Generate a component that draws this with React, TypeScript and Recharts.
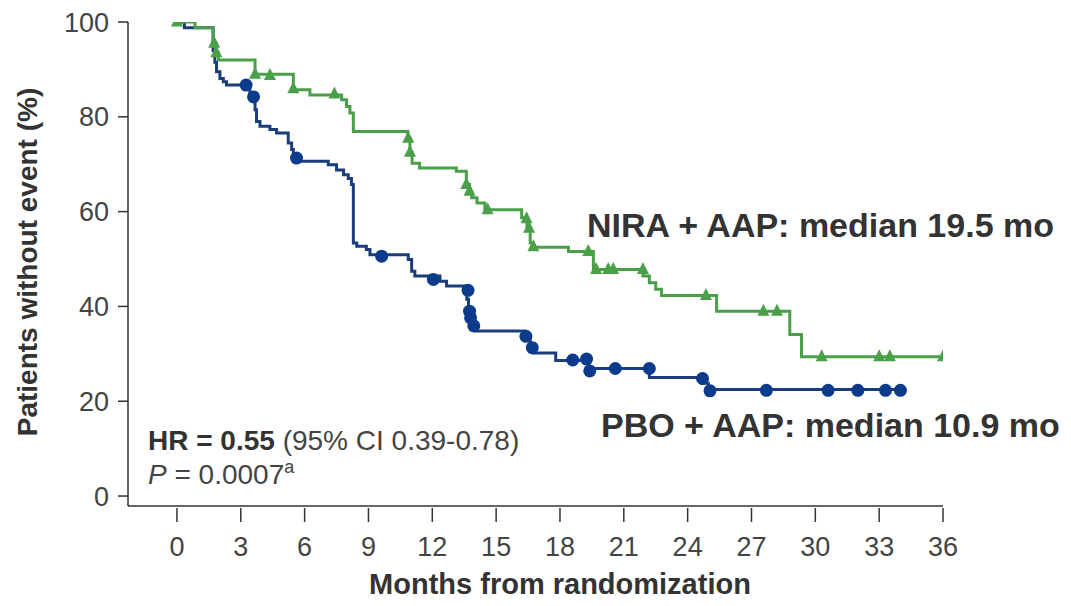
import React from "react";
import { ComposedChart, Line, Scatter, XAxis, YAxis } from "recharts";

// tick labels
const xTicks = [0, 3, 6, 9, 12, 15, 18, 21, 24, 27, 30, 33, 36];
const yTicks = [0, 20, 40, 60, 80, 100];

// NIRA + AAP step curve (months, % without event)
const niraMonths = [0, 0.85, 1.7, 1.85, 1.95, 3.67, 5.47, 6.25, 7.74, 7.97, 8.13, 8.29, 10.85, 10.95, 11.05, 11.4, 13.13, 13.6, 13.75, 13.85, 14.1, 14.47, 16.2, 16.45, 16.6, 16.75, 18.4, 19.57, 21.9, 22.2, 22.5, 22.77, 25.36, 28.8, 29.35, 36];
const niraSurv = [100, 98.8, 95.5, 93.5, 92, 89, 85.7, 84.6, 83.6, 82.2, 80.8, 76.9, 75.4, 72.5, 70.2, 69.2, 68.5, 65.7, 64.3, 62.9, 61.8, 60.4, 58.7, 56.2, 53.4, 52.5, 51.6, 47.8, 46.4, 45.0, 43.6, 42.3, 39.0, 34.1, 29.4, 29.4];

// NIRA + AAP censored patients
const niraCensorM = [0, 1.75, 1.85, 3.67, 4.37, 5.47, 7.4, 10.87, 10.95, 13.6, 13.75, 14.6, 16.43, 16.55, 16.75, 19.33, 19.7, 20.27, 20.5, 21.9, 24.86, 27.56, 28.2, 30.3, 33.0, 33.5, 36.0];
const niraCensorV = [100, 95.5, 93.5, 89, 88.7, 85.9, 84.8, 75.5, 72.5, 65.7, 64.3, 60.4, 58.5, 56.5, 52.6, 51.6, 47.8, 47.8, 47.8, 47.8, 42.3, 39.0, 39.0, 29.4, 29.4, 29.4, 29.4];

// PBO + AAP step curve
const pboMonths = [0, 0.35, 1.7, 1.78, 1.86, 2.02, 2.18, 2.33, 3.43, 3.67, 3.74, 3.9, 4.37, 4.68, 5.23, 5.39, 5.47, 5.62, 7.11, 7.5, 7.83, 8.05, 8.2, 8.29, 8.45, 8.9, 9.07, 10.87, 11.03, 11.18, 12.36, 12.67, 13.62, 13.7, 13.8, 14.0, 16.35, 16.6, 16.75, 17.8, 19.35, 22.2, 24.65, 24.97, 34.0];
const pboSurv = [100, 98.8, 94, 91.5, 89.5, 88.1, 87.4, 86.7, 83.9, 81.5, 79.0, 78.0, 77.3, 76.6, 74.5, 73.1, 71.6, 70.6, 69.9, 68.8, 67.8, 67.0, 65.7, 53.4, 52.7, 52.0, 50.9, 49.9, 47.4, 46.4, 45.3, 44.3, 41.5, 38.5, 36.5, 34.8, 33.5, 31.5, 30.2, 28.6, 26.9, 25.0, 23.8, 22.5, 22.5];

// PBO + AAP censored patients
const pboCensorM = [3.25, 3.6, 5.62, 9.62, 12.05, 13.68, 13.75, 13.8, 13.95, 16.4, 16.7, 18.6, 19.25, 19.4, 20.6, 22.2, 24.7, 25.05, 27.7, 30.6, 32.0, 33.3, 34.0];
const pboCensorV = [86.7, 84.2, 71.3, 50.6, 45.7, 43.4, 39.0, 37.6, 35.9, 33.7, 31.3, 28.7, 28.9, 26.4, 26.9, 26.9, 24.8, 22.2, 22.3, 22.3, 22.3, 22.3, 22.3];

const GREEN = "#4a9f49";
const BLUE = "#1b3d7c";
const DOT = "#0b3b8a";
const AXIS = "#333333";
const FONT = "'Liberation Sans', Arial, sans-serif";

const toPoints = (ms: number[], vs: number[]) => ms.map((m, i) => ({ m, v: vs[i] }));

const niraData = toPoints(niraMonths, niraSurv);
const pboData = toPoints(pboMonths, pboSurv);
const niraCensor = toPoints(niraCensorM, niraCensorV);
const pboCensor = toPoints(pboCensorM, pboCensorV);

const Triangle = (props: any) => {
  const { cx, cy } = props;
  if (cx == null || cy == null) return null;
  return <polygon points={`${cx},${cy - 7.5} ${cx - 6},${cy + 4.5} ${cx + 6},${cy + 4.5}`} fill={GREEN} />;
};

const Dot = (props: any) => {
  const { cx, cy } = props;
  if (cx == null || cy == null) return null;
  return <circle cx={cx} cy={cy} r={6.5} fill={DOT} />;
};

// x ticks sit a little below the axis line
const XTick = (props: any) => {
  const { x, y, payload } = props;
  return (
    <g>
      <line x1={x} x2={x} y1={y + 2} y2={y + 16} stroke={AXIS} strokeWidth={1.5} />
      <text x={x} y={y + 50} textAnchor="middle" fontSize={27} fill="#444" fontFamily={FONT}>
        {payload.value}
      </text>
    </g>
  );
};

export default function App() {
  return (
    <div style={{ position: "absolute", left: 0, top: 0, width: 1071, height: 606, background: "#fff" }}>
      <ComposedChart
        width={1071}
        height={606}
        margin={{ top: 22, right: 128, bottom: 40, left: 48 }}
      >
        <XAxis
          type="number"
          dataKey="m"
          domain={[-2.3, 36]}
          ticks={xTicks}
          allowDataOverflow
          height={60}
          tickSize={0}
          tickMargin={0}
          tickLine={false}
          axisLine={{ stroke: AXIS, strokeWidth: 1.5 }}
          tick={<XTick />}
          interval={0}
        />
        <YAxis
          type="number"
          dataKey="v"
          domain={[-2.1, 100]}
          ticks={yTicks}
          allowDataOverflow
          width={80}
          tickSize={10}
          tickMargin={9}
          axisLine={{ stroke: AXIS, strokeWidth: 1.5 }}
          tickLine={{ stroke: AXIS, strokeWidth: 1.5 }}
          tick={{ fontSize: 27, fill: "#444", fontFamily: FONT }}
          interval={0}
        />
        <Line data={pboData} dataKey="v" type="stepAfter" stroke={BLUE} strokeWidth={3} dot={false} isAnimationActive={false} />
        <Line data={niraData} dataKey="v" type="stepAfter" stroke={GREEN} strokeWidth={3} dot={false} isAnimationActive={false} />
        <Scatter data={pboCensor} dataKey="v" shape={<Dot />} isAnimationActive={false} />
        <Scatter data={niraCensor} dataKey="v" shape={<Triangle />} isAnimationActive={false} />
      </ComposedChart>
      <svg width={1071} height={606} style={{ position: "absolute", left: 0, top: 0, pointerEvents: "none" }}>
        <g fontFamily={FONT} fill="#333">
          <text x={587} y={237} fontSize={34} fontWeight="bold">NIRA + AAP: median 19.5 mo</text>
          <text x={601} y={437} fontSize={34} fontWeight="bold">PBO + AAP: median 10.9 mo</text>
          <text x={148} y={450} fontSize={28}>
            <tspan fontWeight="bold">HR = 0.55</tspan>
            <tspan fill="#444"> (95% CI 0.39-0.78)</tspan>
          </text>
          <text x={148} y={484} fontSize={28} fill="#444">
            <tspan fontStyle="italic">P</tspan>
            <tspan> = 0.0007</tspan>
            <tspan fontSize={18} dy={-11}>a</tspan>
          </text>
          <text x={560} y={594} fontSize={29} fontWeight="bold" textAnchor="middle">Months from randomization</text>
          <text
            x={0}
            y={0}
            fontSize={28}
            fontWeight="bold"
            textAnchor="middle"
            transform="translate(37, 262) rotate(-90)"
          >
            Patients without event (%)
          </text>
        </g>
      </svg>
    </div>
  );
}
